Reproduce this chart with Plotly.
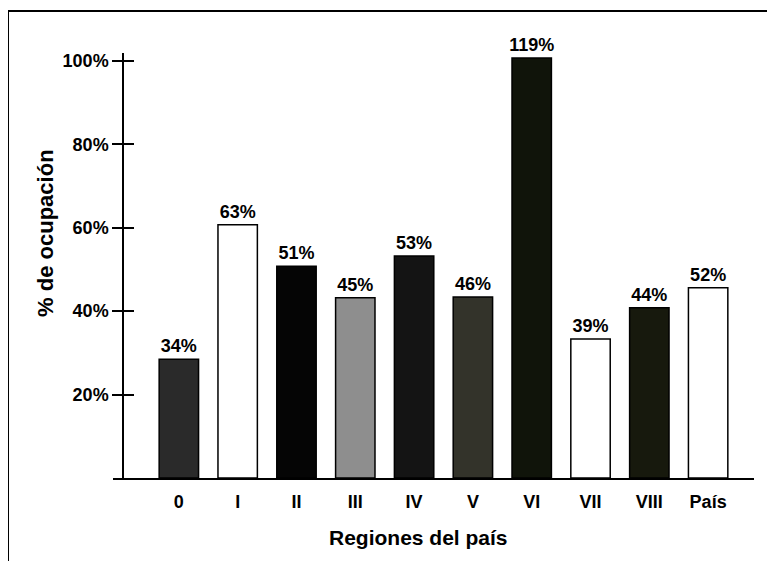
import plotly.graph_objects as go

# ---- data ----
regions = ["0", "I", "II", "III", "IV", "V", "VI", "VII", "VIII", "País"]
bar_heights = [28.5, 60.7, 50.8, 43.2, 53.2, 43.4, 100.7, 33.3, 40.8, 45.6]
value_labels = ["34%", "63%", "51%", "45%", "53%", "46%", "119%", "39%", "44%", "52%"]
y_ticks = [20, 40, 60, 80, 100]
y_tick_labels = ["20%", "40%", "60%", "80%", "100%"]

# ---- styles ----
bar_colors = ["#2a2a2a", "#ffffff", "#050505", "#8e8e8e", "#141414",
              "#33332a", "#10140a", "#ffffff", "#17190d", "#ffffff"]
FONT = "Liberation Sans, Arial, sans-serif"

fig = go.Figure()
fig.add_trace(go.Bar(
    x=regions, y=bar_heights,
    text=value_labels, textposition="outside", cliponaxis=False,
    constraintext="none",
    textfont=dict(family=FONT, size=18, color="black", weight="bold"),
    marker=dict(color=bar_colors, line=dict(color="black", width=1.5)),
    width=0.67, hoverinfo="skip",
))
# invisible helper trace so the overlay axis (inside half of crossing ticks) is drawn
fig.add_trace(go.Scatter(x=[regions[0]], y=[0], yaxis="y2", mode="markers",
                         marker=dict(opacity=0), showlegend=False, hoverinfo="skip"))

y_range = [0, 101.9]
fig.update_layout(
    width=775, height=561,
    margin=dict(l=105, r=29, t=45, b=91),
    paper_bgcolor="white", plot_bgcolor="white",
    showlegend=False,
    xaxis=dict(
        type="category", range=[-1.12, 9.78],
        showline=True, linecolor="black", linewidth=2,
        ticks="", showgrid=False, zeroline=False,
        tickfont=dict(family=FONT, size=18, color="black", weight="bold"),
        ticklabelstandoff=6,
    ),
    yaxis=dict(
        range=y_range, anchor="free", position=0.0156,
        showline=True, linecolor="black", linewidth=1.5,
        ticks="outside", ticklen=10, tickwidth=1.5, tickcolor="black",
        tickvals=y_ticks, ticktext=y_tick_labels,
        tickfont=dict(family=FONT, size=18, color="black", weight="bold"),
        showgrid=False, zeroline=False,
    ),
    yaxis2=dict(
        range=y_range, anchor="free", position=0.0156, overlaying="y",
        showline=False, ticks="inside", ticklen=10, tickwidth=1.5, tickcolor="black",
        tickvals=y_ticks, showticklabels=False, showgrid=False, zeroline=False,
    ),
    annotations=[
        dict(text="Regiones del país", xref="paper", yref="paper",
             x=0.477, y=-0.139, xanchor="center", yanchor="middle", showarrow=False,
             font=dict(family=FONT, size=21, color="black", weight="bold")),
        dict(text="% de ocupación", xref="paper", yref="paper",
             x=-0.105, y=0.576, xanchor="center", yanchor="middle", showarrow=False,
             textangle=-90,
             font=dict(family=FONT, size=22, color="black", weight="bold")),
    ],
    shapes=[
        # frame of the scanned figure (top and left edges)
        dict(type="line", xref="paper", yref="paper", x0=-0.1638, x1=1.05,
             y0=1.0988, y1=1.0988, line=dict(color="black", width=2)),
        dict(type="line", xref="paper", yref="paper", x0=-0.1638, x1=-0.1638,
             y0=1.0988, y1=-0.2, line=dict(color="black", width=2)),
    ],
)

fig.write_html("out.html")
